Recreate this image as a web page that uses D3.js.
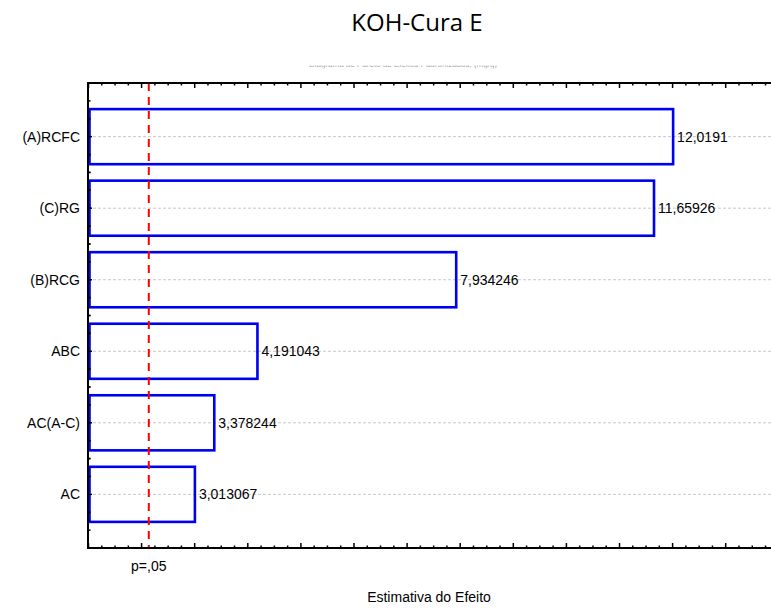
<!DOCTYPE html>
<html>
<head>
<meta charset="utf-8">
<script src="https://cdn.jsdelivr.net/npm/d3@7/dist/d3.min.js"></script>
<style>
  html, body { margin: 0; padding: 0; background: #fff; }
  svg { display: block; }
</style>
</head>
<body>
<svg id="chart" width="771" height="608"></svg>
<script>
// Pareto chart of standardized effects
const categories = ["(A)RCFC", "(C)RG", "(B)RCG", "ABC", "AC(A-C)", "AC"];
const effects = [12.0191, 11.65926, 7.934246, 4.191043, 3.378244, 3.013067];
const effectLabels = ["12,0191", "11,65926", "7,934246", "4,191043", "3,378244", "3,013067"];
const pCritical = 2.145;
const pLabel = "p=,05";
const chartTitle = "KOH-Cura E";
const subTitle = "Diagrama de Pareto de Efeitos Padronizados; (mg/g)";
const xTitle = "Estimativa do Efeito";
const xDomain = [1, 14];

(function () {
  const svg = d3.select("#chart");
  const W = 771;
  const pLeft = 88, pTop = 83, pBottom = 548, pRight = 778.3;

  const x = d3.scaleLinear().domain(xDomain).range([pLeft, pRight]);
  const y = d3.scalePoint().domain(categories).range([pTop, pBottom]).padding(0.75);
  const step = y.step();
  const barH = step * 0.77;

  const labelFont = "'Liberation Sans', Arial, sans-serif";
  const labelSize = 14;

  // Title
  svg.append("text")
    .attr("x", 417).attr("y", 31)
    .attr("text-anchor", "middle")
    .attr("font-family", "'Open Sans', sans-serif")
    .attr("font-size", 24)
    .attr("fill", "#000")
    .text(chartTitle);

  // Partly hidden subtitle: only the lowest strip of the glyphs shows
  svg.append("clipPath").attr("id", "subclip")
    .append("rect").attr("x", 0).attr("y", 65.6).attr("width", W).attr("height", 2.6);
  svg.append("text")
    .attr("x", 403).attr("y", 67)
    .attr("text-anchor", "middle")
    .attr("font-family", labelFont)
    .attr("font-size", 8)
    .attr("fill", "#a0a0a0")
    .attr("clip-path", "url(#subclip)")
    .text(subTitle);

  // Horizontal dashed grid at each category
  svg.append("g").selectAll("line")
    .data(categories).join("line")
    .attr("x1", pLeft).attr("x2", W)
    .attr("y1", d => y(d)).attr("y2", d => y(d))
    .attr("stroke", "#c8c8c8").attr("stroke-width", 1)
    .attr("stroke-dasharray", "3,2");

  // Bars
  svg.append("g").selectAll("rect")
    .data(categories).join("rect")
    .attr("x", x(xDomain[0]) + 1.5)
    .attr("y", d => y(d) - barH / 2)
    .attr("width", (d, i) => x(effects[i]) - x(xDomain[0]) - 1.5)
    .attr("height", barH)
    .attr("fill", "none")
    .attr("stroke", "#0000f0").attr("stroke-width", 2.6);

  // Value labels
  svg.append("g").selectAll("text")
    .data(categories).join("text")
    .attr("x", (d, i) => x(effects[i]) + 4)
    .attr("y", d => y(d))
    .attr("dy", "0.35em")
    .attr("font-family", labelFont)
    .attr("font-size", labelSize)
    .attr("fill", "#000")
    .text((d, i) => effectLabels[i]);

  // Category labels
  svg.append("g").selectAll("text")
    .data(categories).join("text")
    .attr("x", 80)
    .attr("y", d => y(d))
    .attr("dy", "0.35em")
    .attr("text-anchor", "end")
    .attr("font-family", labelFont)
    .attr("font-size", labelSize)
    .attr("fill", "#000")
    .text(d => d);

  // Critical value line
  svg.append("line")
    .attr("x1", x(pCritical)).attr("x2", x(pCritical))
    .attr("y1", pTop).attr("y2", pBottom)
    .attr("stroke", "#ff0000").attr("stroke-width", 2)
    .attr("stroke-dasharray", "8,6");

  svg.append("text")
    .attr("x", x(pCritical)).attr("y", 571)
    .attr("text-anchor", "middle")
    .attr("font-family", labelFont)
    .attr("font-size", labelSize)
    .attr("fill", "#000")
    .text(pLabel);

  // Axis ticks (inward), majors at integers, minors every 0.25
  const minorVals = d3.range(xDomain[0], xDomain[1] + 0.001, 0.25);
  const isMajor = v => Math.abs(v - Math.round(v)) < 1e-6;

  const gb = svg.append("g").attr("transform", `translate(0,${pBottom})`)
    .call(d3.axisTop(x).tickValues(minorVals).tickFormat("").tickSizeOuter(0));
  gb.selectAll(".tick line").attr("y2", v => isMajor(v) ? -5 : -2.5)
    .attr("stroke", "#000").attr("stroke-width", 1.5);

  const gt = svg.append("g").attr("transform", `translate(0,${pTop})`)
    .call(d3.axisBottom(x).tickValues(minorVals).tickFormat("").tickSizeOuter(0));
  gt.selectAll(".tick line").attr("y2", v => isMajor(v) ? 5 : 2.5)
    .attr("stroke", "#000").attr("stroke-width", 1.5);

  [gb, gt].forEach(g => g.select(".domain").remove());

  // Left axis ticks: category centres and quarter steps between
  const leftTicks = [];
  categories.forEach(c => {
    for (let j = -3; j <= 3; j++) leftTicks.push({ y: y(c) + j * step / 4, major: j === 0 });
  });
  svg.append("g").selectAll("line")
    .data(leftTicks).join("line")
    .attr("x1", pLeft).attr("x2", d => pLeft + (d.major ? 4 : 2.5))
    .attr("y1", d => d.y).attr("y2", d => d.y)
    .attr("stroke", "#000").attr("stroke-width", 1.5);

  // Frame lines
  svg.append("line").attr("x1", pLeft).attr("x2", W).attr("y1", pTop).attr("y2", pTop)
    .attr("stroke", "#000").attr("stroke-width", 2);
  svg.append("line").attr("x1", pLeft).attr("x2", W).attr("y1", pBottom).attr("y2", pBottom)
    .attr("stroke", "#000").attr("stroke-width", 2);
  svg.append("line").attr("x1", pLeft).attr("x2", pLeft).attr("y1", pTop - 1).attr("y2", pBottom + 1)
    .attr("stroke", "#000").attr("stroke-width", 2);

  // X axis title
  svg.append("text")
    .attr("x", 429).attr("y", 602)
    .attr("text-anchor", "middle")
    .attr("font-family", labelFont)
    .attr("font-size", labelSize)
    .attr("fill", "#000")
    .text(xTitle);
})();
</script>
</body>
</html>
